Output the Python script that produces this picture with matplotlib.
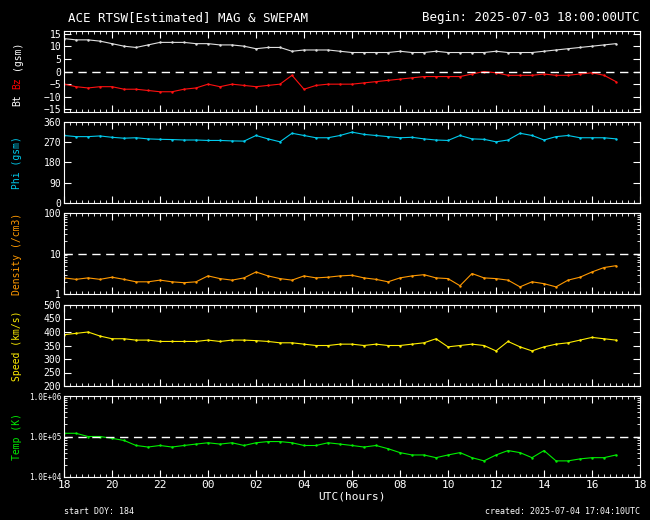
import numpy as np
import matplotlib
matplotlib.use("Agg")
import matplotlib.pyplot as plt
from matplotlib.ticker import FixedLocator, NullFormatter

# ── dati (passo 0.5 h dalle 18 UTC) ───────────────────────────
hours = [i * 0.5 for i in range(47)]

bt = [13, 12.5, 12.5, 12, 11, 10, 9.5, 10.5, 11.5, 11.5, 11.5, 11, 11, 10.5, 10.5, 10,
      9, 9.5, 9.5, 8, 8.5, 8.5, 8.5, 8, 7.5, 7.5, 7.5, 7.5, 8, 7.5, 7.5, 8, 7.5, 7.5,
      7.5, 7.5, 8, 7.5, 7.5, 7.5, 8, 8.5, 9, 9.5, 10, 10.5, 11]
bz = [-5, -6, -6.5, -6, -6, -7, -7, -7.5, -8, -8, -7, -6.5, -5, -6, -5, -5.5,
      -6, -5.5, -5, -1.5, -7, -5.5, -5, -5, -5, -4.5, -4, -3.5, -3, -2.5, -2, -2,
      -2, -2, -1, 0, -0.5, -1.5, -1.5, -1.5, -1, -1.5, -1.5, -1, -0.5, -1.5, -4]
phi = [300, 295, 295, 298, 292, 288, 290, 285, 283, 282, 280, 280, 278, 278, 276, 275,
       300, 285, 272, 310, 300, 290, 290, 300, 315, 305, 300, 295, 290, 292, 285, 280,
       278, 300, 285, 283, 272, 280, 310, 300, 280, 295, 300, 290, 290, 290, 285]
density = [2.5, 2.3, 2.5, 2.3, 2.6, 2.3, 2.0, 2.0, 2.2, 2.0, 1.9, 2.0, 2.8, 2.4, 2.2, 2.5,
           3.5, 2.8, 2.4, 2.2, 2.8, 2.5, 2.6, 2.8, 2.9, 2.5, 2.3, 2.0, 2.5, 2.8, 3.0, 2.5,
           2.4, 1.6, 3.2, 2.5, 2.4, 2.2, 1.5, 2.0, 1.8, 1.5, 2.2, 2.6, 3.5, 4.5, 5.0]
speed = [390, 395, 400, 385, 375, 375, 370, 370, 365, 365, 365, 365, 370, 365, 370, 370,
         368, 365, 360, 360, 355, 350, 350, 355, 355, 350, 355, 350, 350, 355, 360, 375,
         345, 350, 355, 350, 330, 365, 345, 330, 345, 355, 360, 370, 380, 375, 370]
temp = [1.2e5, 1.2e5, 1.0e5, 1.0e5, 9e4, 8e4, 6e4, 5.5e4, 6e4, 5.5e4, 6e4, 6.5e4, 7e4,
        6.5e4, 7e4, 6e4, 7e4, 7.5e4, 7.5e4, 7e4, 6e4, 6e4, 7e4, 6.5e4, 6e4, 5.5e4, 6e4,
        5e4, 4e4, 3.5e4, 3.5e4, 3e4, 3.5e4, 4e4, 3e4, 2.5e4, 3.5e4, 4.5e4, 4e4, 3e4,
        4.5e4, 2.5e4, 2.5e4, 2.8e4, 3e4, 3e4, 3.5e4]

x_ticks = list(range(0, 25, 2))
x_labels = ["18", "20", "22", "00", "02", "04", "06", "08", "10", "12", "14", "16", "18"]
# ─────────────────────────────────────────────────────────────

FONT = "DejaVu Sans Mono"
plt.rcParams["font.family"] = FONT
plt.rcParams["font.size"] = 7

fig = plt.figure(figsize=(6.5, 5.2), dpi=100, facecolor="black")
W, H = 650, 520
left, right = 64, 640
tops = [31, 122, 213, 305, 396]
ph = 81
LABX = 17 / W
axes = []
for t in tops:
    ax = fig.add_axes([left / W, 1 - (t + ph) / H, (right - left) / W, ph / H])
    ax.set_facecolor("black")
    for s in ax.spines.values():
        s.set_color("white")
    ax.tick_params(colors="white", direction="in", top=True, right=True,
                   which="both", labelsize=7, length=5, pad=2)
    ax.tick_params(which="minor", length=2)
    ax.set_xlim(0, 24)
    ax.xaxis.set_major_locator(FixedLocator(x_ticks))
    ax.xaxis.set_minor_locator(FixedLocator(np.arange(0, 24.01, 0.25)))
    ax.set_xticklabels([])
    axes.append(ax)

def dots(ax, y, c):
    ax.plot(hours, y, color=c, lw=0.8)
    ax.plot(hours, y, ".", color=c, ms=1.5)

def ylab(t, txt, c):
    # etichetta ruotata centrata sul pannello
    fig.text(LABX, 1 - (t + ph / 2) / H, txt, color=c, rotation=90,
             ha="center", va="center", fontsize=7)

# Bt / Bz
ax = axes[0]
dots(ax, bt, "#e0e0e0")
dots(ax, bz, "#ff1010")
ax.axhline(0, color="white", ls=(0, (6, 4)), lw=1)
ax.set_ylim(-16, 16)
ax.set_yticks([-15, -10, -5, 0, 5, 10, 15])
fig.text(LABX, 1 - 100 / H, "Bt", color="white", rotation=90, ha="center", va="center")
fig.text(LABX, 1 - 83 / H, "Bz", color="red", rotation=90, ha="center", va="center")
fig.text(LABX, 1 - 55 / H, "(gsm)", color="white", rotation=90, ha="center", va="center")

# Phi
ax = axes[1]
dots(ax, phi, "#00ccee")
ax.set_ylim(0, 360)
ax.set_yticks([0, 90, 180, 270, 360])
ylab(tops[1], "Phi (gsm)", "#00ccee")

# Density
ax = axes[2]
dots(ax, density, "#ff9900")
ax.set_yscale("log")
ax.set_ylim(1, 100)
ax.set_yticks([1, 10, 100])
ax.set_yticklabels(["1", "10", "100"])
ax.yaxis.set_minor_formatter(NullFormatter())
ax.axhline(10, color="white", ls=(0, (6, 4)), lw=1)
ylab(tops[2], "Density (/cm3)", "#ff9900")

# Speed
ax = axes[3]
dots(ax, speed, "#ffee00")
ax.set_ylim(200, 500)
ax.set_yticks([200, 250, 300, 350, 400, 450, 500])
ylab(tops[3], "Speed (km/s)", "#ffee00")

# Temp
ax = axes[4]
dots(ax, temp, "#00ee00")
ax.set_yscale("log")
ax.set_ylim(1e4, 1e6)
ax.set_yticks([1e4, 1e5, 1e6])
ax.set_yticklabels(["1.0E+04", "1.0E+05", "1.0E+06"], fontsize=5.5)
ax.yaxis.set_minor_formatter(NullFormatter())
ax.axhline(1e5, color="white", ls=(0, (6, 4)), lw=1)
ylab(tops[4], "Temp (K)", "#00ee00")
ax.set_xticklabels(x_labels, fontsize=8)
ax.set_xlabel("UTC(hours)", color="white", labelpad=1, fontsize=8)

fig.text(68 / W, 1 - 18 / H, "ACE RTSW[Estimated] MAG & SWEPAM", color="white",
         fontsize=9, va="center")
fig.text(640 / W, 1 - 18 / H, "Begin: 2025-07-03 18:00:00UTC", color="white",
         fontsize=9, va="center", ha="right")
fig.text(64 / W, 1 - 512 / H, "start DOY: 184", color="white", fontsize=6, va="center")
fig.text(640 / W, 1 - 512 / H, "created: 2025-07-04 17:04:10UTC", color="white",
         fontsize=6, va="center", ha="right")

fig.savefig("out.png", dpi=100, facecolor="black")
